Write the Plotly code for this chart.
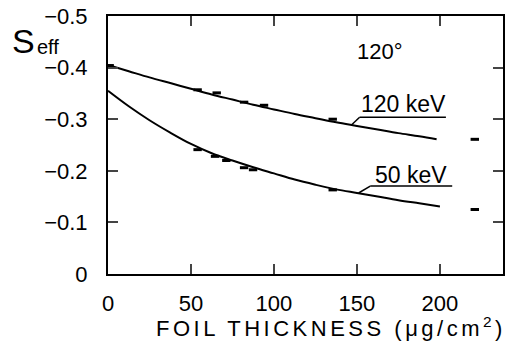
import plotly.graph_objects as go

# ---- data ----
t_curve = [0, 12.5, 25, 37.5, 50, 62.5, 75, 87.5, 100, 112.5, 125, 137.5, 150, 162.5, 175, 187.5, 198]
s_120 = [-0.405, -0.393, -0.381, -0.370, -0.359, -0.348, -0.338, -0.328, -0.319, -0.310,
         -0.302, -0.294, -0.287, -0.280, -0.273, -0.267, -0.261]
t_curve50 = [0, 12.5, 25, 37.5, 50, 62.5, 75, 87.5, 100, 112.5, 125, 137.5, 150, 162.5, 175, 187.5, 200]
s_50 = [-0.355, -0.325, -0.298, -0.274, -0.252, -0.234, -0.220, -0.207, -0.195, -0.183,
        -0.173, -0.164, -0.157, -0.150, -0.143, -0.137, -0.131]

t_pts120 = [1, 54, 65.5, 82, 94, 135.4, 221]
s_pts120 = [-0.404, -0.357, -0.351, -0.333, -0.327, -0.300, -0.261]
t_pts50 = [54, 64.5, 71.3, 82, 87.4, 135.4, 221]
s_pts50 = [-0.241, -0.228, -0.220, -0.206, -0.202, -0.163, -0.125]

x_ticks = [0, 50, 100, 150, 200]
y_ticks = [0, -0.1, -0.2, -0.3, -0.4, -0.5]
y_ticktext = ["0", "\u22120.1", "\u22120.2", "\u22120.3", "\u22120.4", "\u22120.5"]

W, H = 509, 351
L, R, T, B = 108, 4, 15, 77
FONT = "Liberation Sans"

def px(x):
    return (x - L) / (W - L - R)

def py(y):
    return 1 - (y - T) / (H - T - B)

fig = go.Figure()
fig.add_trace(go.Scatter(x=t_curve, y=s_120, mode="lines", line=dict(color="black", width=2),
                         line_shape="spline", showlegend=False, hoverinfo="skip"))
fig.add_trace(go.Scatter(x=t_curve50, y=s_50, mode="lines", line=dict(color="black", width=2),
                         line_shape="spline", showlegend=False, hoverinfo="skip"))
for tx, sy in ((t_pts120, s_pts120), (t_pts50, s_pts50)):
    fig.add_trace(go.Scatter(x=tx, y=sy, mode="markers", showlegend=False,
                             marker=dict(symbol="line-ew-open", size=6, color="black",
                                         line=dict(color="black", width=3))))

# leader lines for curve labels
for (xa, xb, yl, xe, ye) in ((151.6, 203.6, -0.3037, 147, -0.2896),
                             (158.0, 207.4, -0.1705, 151, -0.157)):
    fig.add_shape(type="line", x0=xa, x1=xb, y0=yl, y1=yl, xref="x", yref="y",
                  line=dict(color="black", width=1.5))
    fig.add_shape(type="line", x0=xa, x1=xe, y0=yl, y1=ye, xref="x", yref="y",
                  line=dict(color="black", width=1.5))

ann = [
    dict(x=177.9, y=-0.330, text="120 keV", size=23),
    dict(x=182.4, y=-0.191, text="50 keV", size=23),
    dict(x=163.6, y=-0.431, text="120°", size=22),
]
for a in ann:
    fig.add_annotation(x=a["x"], y=a["y"], xref="x", yref="y", text=a["text"],
                       showarrow=False, xanchor="center", yanchor="middle",
                       font=dict(family=FONT, size=a["size"], color="black"))

fig.add_annotation(x=px(23), y=py(40), xref="paper", yref="paper", text="S", showarrow=False,
                   xanchor="center", yanchor="middle",
                   font=dict(family=FONT, size=34, color="black"))
fig.add_annotation(x=px(48), y=py(46), xref="paper", yref="paper", text="eff", showarrow=False,
                   xanchor="center", yanchor="middle",
                   font=dict(family=FONT, size=20, color="black"))
fig.add_annotation(x=px(332), y=py(327), xref="paper", yref="paper",
                   xanchor="center", yanchor="middle",
                   text='<span style="letter-spacing:3.5px">FOIL THICKNESS (\u03bcg/cm<sup>2</sup>)</span>',
                   showarrow=False, font=dict(family=FONT, size=22, color="black"))

fig.update_xaxes(range=[0, 238], tickvals=x_ticks, ticks="inside", ticklen=10, tickwidth=1.5,
                 showline=True, linewidth=2, linecolor="black", mirror="ticks",
                 showgrid=False, zeroline=False, ticklabelstandoff=9,
                 tickfont=dict(family=FONT, size=22, color="black"))
fig.update_yaxes(range=[0, -0.5], tickvals=y_ticks, ticktext=y_ticktext, ticks="inside",
                 ticklen=10, tickwidth=1.5, showline=True, linewidth=2, linecolor="black",
                 mirror="ticks", showgrid=False, zeroline=False, ticklabelstandoff=14,
                 tickfont=dict(family=FONT, size=22, color="black"))

fig.update_layout(width=W, height=H, margin=dict(l=L, r=R, t=T, b=B),
                  paper_bgcolor="white", plot_bgcolor="white", showlegend=False)
fig.write_html("out.html")
